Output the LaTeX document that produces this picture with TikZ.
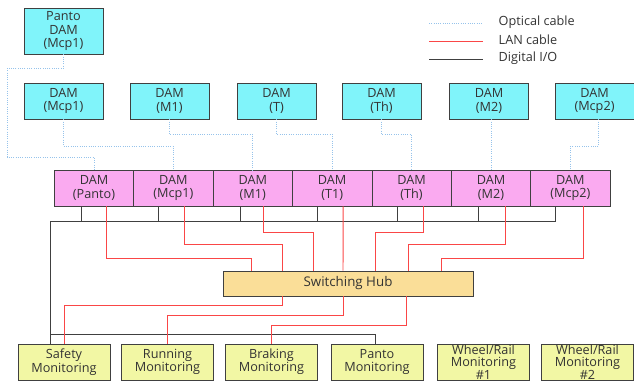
\documentclass[tikz,border=0pt]{standalone}
\usepackage{fontspec}
\setmainfont{Open Sans}
\usetikzlibrary{positioning}

\definecolor{damcyan}{RGB}{128,244,250}
\definecolor{unitpink}{RGB}{250,170,240}
\definecolor{hubtan}{RGB}{250,222,152}
\definecolor{monyellow}{RGB}{242,247,164}
\definecolor{optblue}{RGB}{150,195,235}
\definecolor{lanred}{RGB}{250,70,70}
\definecolor{edgegray}{RGB}{64,64,64}

\begin{document}
\begin{tikzpicture}[
  x=0.75pt, y=-0.75pt,
  every node/.style={font=\fontsize{9.5}{10}\selectfont, text=black!80, align=center},
  dambox/.style={draw=edgegray, fill=damcyan, minimum width=59.25pt,
                 minimum height=27pt, inner sep=1pt},
  unitbox/.style={draw=edgegray, fill=unitpink, minimum width=59.5pt,
                  minimum height=27pt, inner sep=1pt},
  hubbox/.style={draw=edgegray, fill=hubtan, minimum width=187.5pt,
                 minimum height=18.75pt, font=\fontsize{10}{11}\selectfont},
  monbox/.style={draw=edgegray, fill=monyellow, minimum width=69pt,
                 minimum height=27pt, inner sep=0pt},
  optical/.style={optblue, densely dotted, line width=0.7pt},
  lan/.style={lanred, line width=0.7pt},
  dio/.style={edgegray, line width=0.7pt}
]
  \useasboundingbox (0,0) rectangle (634,383);

  % legend
  \node[anchor=west] (lgopt) at (494,22) {Optical cable};
  \node[anchor=west] (lglan) at (494,40) {LAN cable};
  \node[anchor=west] (lgdio) at (494,58) {Digital I/O};
  \draw[optical] (429,23) -- (483,23);
  \draw[lan]     (429,41) -- (483,41);
  \draw[dio]     (429,59) -- (483,59);

  % remote DAMs
  \node[dambox, minimum height=34.5pt] (pdam) at (63.5,31) {Panto\\DAM\\(Mcp1)};
  \node[dambox] (d1) at (63.5,101)  {DAM\\(Mcp1)};
  \node[dambox] (d2) at (169.5,101) {DAM\\(M1)};
  \node[dambox] (d3) at (276.5,101) {DAM\\(T)};
  \node[dambox] (d4) at (381.5,101) {DAM\\(Th)};
  \node[dambox] (d5) at (489,101)   {DAM\\(M2)};
  \node[dambox] (d6) at (594.5,101) {DAM\\(Mcp2)};

  % car DAMs
  \node[unitbox] (u1) at (94,188)    {DAM\\(Panto)};
  \node[unitbox] (u2) at (173.4,188) {DAM\\(Mcp1)};
  \node[unitbox] (u3) at (252.8,188) {DAM\\(M1)};
  \node[unitbox] (u4) at (332.2,188) {DAM\\(T1)};
  \node[unitbox] (u5) at (411.6,188) {DAM\\(Th)};
  \node[unitbox] (u6) at (491,188)   {DAM\\(M2)};
  \node[unitbox] (u7) at (570.4,188) {DAM\\(Mcp2)};

  \node[hubbox] (hub) at (348,283.5) {Switching Hub};

  % monitoring units
  \node[monbox] (m1) at (64,362)    {Safety\\Monitoring};
  \node[monbox] (m2) at (167.5,362) {Running\\Monitoring};
  \node[monbox] (m3) at (271.5,362) {Braking\\Monitoring};
  \node[monbox] (m4) at (377,362)   {Panto\\Monitoring};
  \node[monbox, font=\fontsize{9.5}{9}\selectfont] (m5) at (483.5,362) {Wheel/Rail\\Monitoring\\\#1};
  \node[monbox, font=\fontsize{9.5}{9}\selectfont] (m6) at (587.5,362) {Wheel/Rail\\Monitoring\\\#2};

  % optical links
  \draw[optical] (pdam.south) -- ++(0,14) -| (7,157) -| (u1.north);
  \draw[optical] (d1.south) -- ++(0,27) -| (u2.north);
  \draw[optical] (d2.south) -- ++(0,15) -| (u3.north);
  \draw[optical] (d3.south) -- ++(0,15) -| (u4.north);
  \draw[optical] (d4.south) -- ++(0,15) -| (u5.north);
  \draw[optical] (u6.north |- d5.south) -- (u6.north);
  \draw[optical] ([shift={(4,0)}]d6.south) -- ++(0,27) -| (u7.north);

  % digital I/O
  \coordinate (bus) at (50,221);
  \coordinate (tap) at (50,334);
  \foreach \u/\s in {u1/-13, u2/-15, u3/-12, u4/-15, u5/-14, u6/-13}
    \draw[dio] ([shift={(\s,0)}]\u.south) -- ++(0,15);
  \draw[dio] ([shift={(-15,0)}]u7.south) |- (bus) -- (m1.north -| bus);
  \draw[dio] (tap) -| ([shift={(-2,0)}]m4.north);

  % LAN to hub
  \draw[lan] ([shift={(12,0)}]u1.south) -- ++(0,52) -| ([shift={(-97,0)}]hub.north);
  \draw[lan] ([shift={(11,0)}]u2.south) -- ++(0,38) -| ([shift={(-66,0)}]hub.north);
  \draw[lan] ([shift={(11,0)}]u3.south) -- ++(0,26) -| ([shift={(-35,0)}]hub.north);
  \draw[lan] ([shift={(11,0)}]u4.south) -- ([shift={(-5,0)}]hub.north);
  \draw[lan] ([shift={(12,0)}]u5.south) -- ++(0,26) -| ([shift={(27,0)}]hub.north);
  \draw[lan] ([shift={(14,0)}]u6.south) -- ++(0,38) -| ([shift={(60,0)}]hub.north);
  \draw[lan] ([shift={(13,0)}]u7.south) -- ++(0,52) -| ([shift={(93,0)}]hub.north);

  % LAN to monitoring
  \draw[lan] ([shift={(-66,0)}]hub.south) -- ++(0,9)  -| (m1.north);
  \draw[lan] ([shift={(-5,0)}]hub.south)  -- ++(0,19) -| (m2.north);
  \draw[lan] ([shift={(58,0)}]hub.south)  -- ++(0,29) -| (m3.north);
\end{tikzpicture}
\end{document}
